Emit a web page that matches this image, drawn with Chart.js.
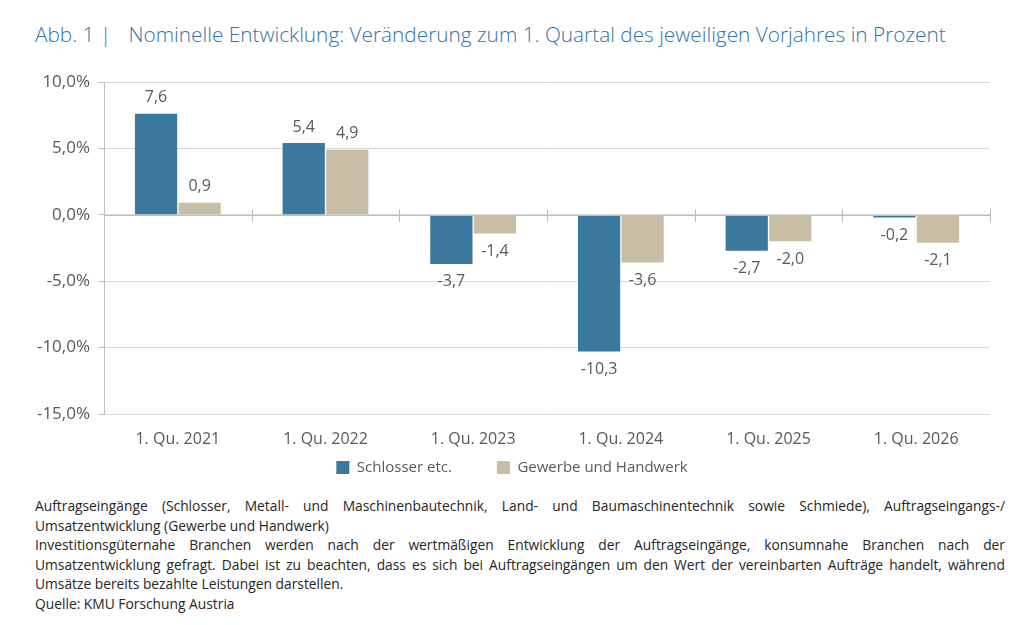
<!DOCTYPE html>
<html lang="de">
<head>
<meta charset="utf-8">
<title>Abb. 1 Nominelle Entwicklung</title>
<script src="https://cdn.jsdelivr.net/npm/chart.js@4.4.0/dist/chart.umd.min.js"></script>
<style>
  html, body { margin: 0; padding: 0; background: #fff; }
  body { width: 1024px; height: 625px; position: relative; overflow: hidden; font-family: "Open Sans", sans-serif; }
  #title { position: absolute; left: 35px; top: 20px; font-size: 20.8px; font-weight: 300; color: #2e74a8; white-space: nowrap; }
  #title .sep { margin-right: 12px; }
  #wrap { position: absolute; left: 0; top: 60px; width: 1024px; height: 425px; }
  #note { position: absolute; left: 35px; top: 496px; width: 970px; font-size: 13.8px; color: #262626; line-height: 19.6px; }
  #note div { white-space: nowrap; }
  #note .j { text-align: justify; text-align-last: justify; word-spacing: -2px; }
</style>
</head>
<body>
<div id="title"><span class="sep">Abb. 1 |</span> Nominelle Entwicklung: Veränderung zum 1. Quartal des jeweiligen Vorjahres in Prozent</div>
<div id="wrap"><canvas id="myChart"></canvas></div>
<div id="note">
  <div class="j">Auftragseingänge (Schlosser, Metall- und Maschinenbautechnik, Land- und Baumaschinentechnik sowie Schmiede), Auftragseingangs-/</div>
  <div>Umsatzentwicklung (Gewerbe und Handwerk)</div>
  <div class="j">Investitionsgüternahe Branchen werden nach der wertmäßigen Entwicklung der Auftragseingänge, konsumnahe Branchen nach der</div>
  <div class="j">Umsatzentwicklung gefragt. Dabei ist zu beachten, dass es sich bei Auftragseingängen um den Wert der vereinbarten Aufträge handelt, während</div>
  <div>Umsätze bereits bezahlte Leistungen darstellen.</div>
  <div>Quelle: KMU Forschung Austria</div>
</div>
<script>
  'use strict'

  // data
  const quarters = ['1. Qu. 2021', '1. Qu. 2022', '1. Qu. 2023', '1. Qu. 2024', '1. Qu. 2025', '1. Qu. 2026'];
  const schlosser = [7.6, 5.4, -3.7, -10.3, -2.7, -0.2];
  const gewerbe = [0.9, 4.9, -1.4, -3.6, -2.0, -2.1];
  const seriesNames = ['Schlosser etc.', 'Gewerbe und Handwerk'];

  const textColor = '#595959';
  const gridColor = '#d9d9d9';
  const fmt = (v, d) => v.toFixed(d).replace('.', ',');

  // value labels above / below the bars
  const valueLabels = {
    id: 'valueLabels',
    afterDatasetsDraw(chart) {
      const c = chart.ctx;
      c.save();
      c.font = '16px "Open Sans", sans-serif';
      c.fillStyle = textColor;
      c.textAlign = 'center';
      c.textBaseline = 'middle';
      chart.data.datasets.forEach((ds, i) => {
        chart.getDatasetMeta(i).data.forEach((bar, j) => {
          const v = ds.data[j];
          const y = v >= 0 ? bar.y - 16 : bar.y + 18;
          c.fillText(fmt(v, 1), bar.x, y);
        });
      });
      c.restore();
    }
  };

  // tick marks on the zero line between categories
  const zeroTicks = {
    id: 'zeroTicks',
    afterDraw(chart) {
      const x = chart.scales.x, y = chart.scales.y;
      const y0 = Math.round(y.getPixelForValue(0));
      const c = chart.ctx;
      c.save();
      c.strokeStyle = '#bfbfbf';
      c.lineWidth = 1;
      c.beginPath();
      c.moveTo(x.left, y0 + 0.5);
      c.lineTo(x.right, y0 + 0.5);
      const step = (x.right - x.left) / quarters.length;
      for (let i = 0; i <= quarters.length; i++) {
        const px = Math.round(x.left + i * step) + 0.5;
        c.moveTo(px, y0 - 6);
        c.lineTo(px, y0 + 7);
      }
      c.stroke();
      c.restore();
    }
  };

  // x scale is squeezed to 1px so the legend sits close; give its labels room again (they are clipped to the scale box)
  const xLabelRoom = {
    id: 'xLabelRoom',
    afterLayout(chart) {
      chart.scales.x.bottom = chart.scales.x.top + 40;
    }
  };

  const ctx = document.getElementById('myChart');
  new Chart(ctx, {
    type: 'bar',
    data: {
      labels: quarters,
      datasets: [{
        label: seriesNames[0],
        data: schlosser,
        backgroundColor: '#3b789d',
        borderWidth: 0
      }, {
        label: seriesNames[1],
        data: gewerbe,
        backgroundColor: '#c9bea5',
        borderWidth: 0
      }]
    },
    options: {
      responsive: true,
      maintainAspectRatio: false,
      animation: false,
      layout: { padding: { top: 22, right: 34, left: 34, bottom: 0 } },
      datasets: { bar: { categoryPercentage: 0.59, barPercentage: 0.97 } },
      scales: {
        x: {
          afterFit: (scale) => { scale.height = 1; },
          grid: { display: false },
          border: { display: false },
          ticks: { color: textColor, font: { family: 'Open Sans', size: 16 }, padding: 8 }
        },
        y: {
          min: -15,
          max: 10,
          afterFit: (scale) => { scale.width = 70; },
          ticks: {
            stepSize: 5,
            color: textColor,
            font: { family: 'Open Sans', size: 17 },
            padding: 8,
            callback: (v) => fmt(v, 1) + '%'
          },
          grid: { color: gridColor, tickLength: 6, tickColor: '#bfbfbf' },
          border: { color: '#bfbfbf' }
        }
      },
      plugins: {
        legend: {
          position: 'bottom',
          labels: {
            boxWidth: 13,
            boxHeight: 13,
            padding: 45,
            color: textColor,
            font: { family: 'Open Sans', size: 15 }
          }
        },
        tooltip: { enabled: false }
      }
    },
    plugins: [valueLabels, zeroTicks, xLabelRoom]
  });
</script>
</body>
</html>
